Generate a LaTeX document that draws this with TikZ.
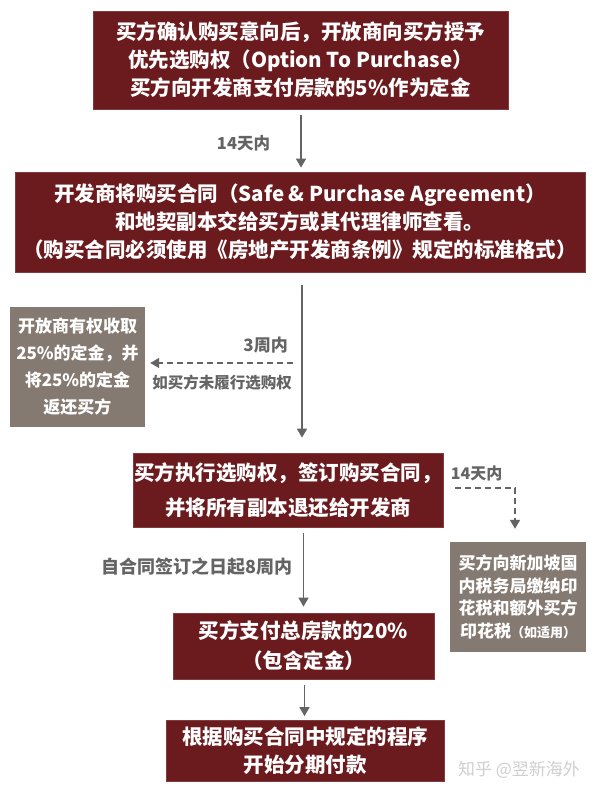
\documentclass[tikz,border=0pt]{standalone}
\usepackage{fontspec}
\setmainfont{Noto Sans CJK SC}
\usetikzlibrary{arrows.meta,calc}
\definecolor{dred}{HTML}{6B1A1E}
\definecolor{gbox}{HTML}{857A72}
\definecolor{agray}{HTML}{646464}
\definecolor{wm}{HTML}{CFCFCF}
\begin{document}
\begin{tikzpicture}[x=1pt,y=-1pt,
  redbox/.style={fill=dred,draw=dred!85!white,line width=0.8pt,text=white,font=\bfseries\fontsize{20.5}{28}\selectfont,align=center,inner sep=0pt},
  graybox/.style={fill=gbox,text=white,font=\bfseries\fontsize{17}{27}\selectfont,align=center,inner sep=0pt},
  flow/.style={draw=agray,line width=1.6pt,-{Triangle[length=9pt,width=10pt]}},
  dflow/.style={flow,dash pattern=on 6pt off 4pt,line width=1.4pt},
  lbl/.style={text=agray,font=\bfseries\fontsize{16.5}{20}\selectfont,inner sep=0pt}]
\useasboundingbox[fill=white] (0,0) rectangle (600,800);

\node[redbox,minimum width=415pt,minimum height=98pt] (b1) at (300.5,60)
  {买方确认购买意向后，开放商向买方授予\\优先选购权（Option To Purchase）\\买方向开发商支付房款的5\%作为定金};
\node[redbox,minimum width=570pt,minimum height=100pt] (b2) at (300,222)
  {开发商将购买合同（Safe \& Purchase Agreement）\\和地契副本交给买方或其代理律师查看。\\（购买合同必须使用《房地产开发商条例》规定的标准格式）};
\node[graybox,minimum width=135pt,minimum height=120pt] (lb) at (77.5,367)
  {开放商有权收取\\25\%的定金，并\\将25\%的定金\\返还买方};
\node[redbox,minimum width=310pt,minimum height=74pt,font=\bfseries\fontsize{20.5}{35}\selectfont] (b3) at (288,490)
  {买方执行选购权，签订购买合同，\\并将所有副本退还给开发商};
\node[graybox,minimum width=136pt,minimum height=110pt,font=\bfseries\fontsize{17}{22.7}\selectfont] (rb) at (518,597)
  {买方向新加坡国\\内税务局缴纳印\\花税和额外买方\\印花税{\fontsize{13}{15}\selectfont（如适用）}};
\node[redbox,minimum width=261pt,minimum height=66pt,font=\bfseries\fontsize{20.5}{30}\selectfont] (b4) at (303.5,646)
  {买方支付总房款的20\%\\（包含定金）};
\node[redbox,minimum width=278pt,minimum height=61pt] (b5) at (305,751)
  {根据购买合同中规定的程序\\开始分期付款};

\coordinate (d1) at (293,363);
\coordinate (d2) at (455,488);

\draw[flow,shorten <=6pt,shorten >=4pt] ($(b1.south)+(0.5,0)$) -- ($(b1.south |- b2.north)+(0.5,0)$);
\draw[flow] ($(b2.south)+(2,13)$) -- ($(b3.north -| b2.south)+(2,-15)$);
\draw[dflow,shorten >=5pt] (d1) -- (lb.east |- d1);
\draw[flow] ($(b3.south -| b4.north)+(0,6)$) -- ($(b4.north)+(0,-6)$);
\draw[flow,shorten <=6pt,shorten >=4pt] ($(b4.south)+(1,0)$) -- ($(b4.south |- b5.north)+(1,0)$);
\draw[dflow] (d2) -| ($(rb.north)+(-3,-13)$);

\node[lbl] (l1) at (243.5,143) {14天内};
\node[lbl,anchor=east,font=\bfseries\fontsize{17}{20}\selectfont] (l2) at (288,345) {3周内};
\node[lbl,anchor=east,font=\bfseries\fontsize{15.5}{18}\selectfont] (l3) at (292,383) {如买方未履行选购权};
\node[lbl,font=\bfseries\fontsize{16}{18}\selectfont] (l4) at (476.5,473) {14天内};
\node[lbl,anchor=east,font=\bfseries\fontsize{18}{20}\selectfont] (l5) at (293,567) {自合同签订之日起8周内};
\node[text=wm,font=\fontsize{17}{20}\selectfont,inner sep=0pt] (wm) at (519,770) {知乎 @翌新海外};
\end{tikzpicture}
\end{document}
